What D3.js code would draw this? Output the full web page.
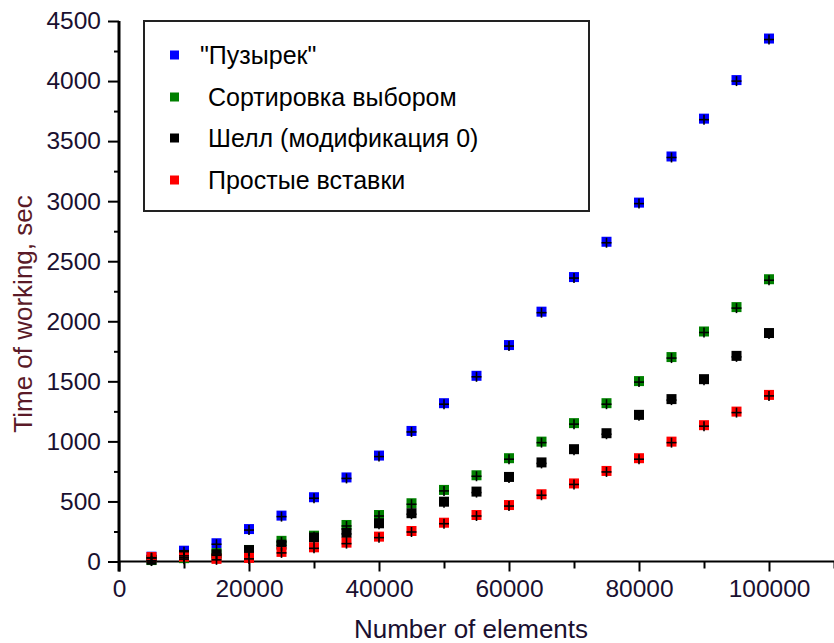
<!DOCTYPE html>
<html>
<head>
<meta charset="utf-8">
<script src="https://cdn.jsdelivr.net/npm/d3@7/dist/d3.min.js"></script>
<style>
  html, body { margin: 0; padding: 0; background: #fff; }
  svg { display: block; font-family: "Liberation Sans", Arial, sans-serif; }
</style>
</head>
<body>
<svg id="chart" width="834" height="643"></svg>
<script>
// Array sizes (number of elements)
const sizes = [5000, 10000, 15000, 20000, 25000, 30000, 35000, 40000, 45000, 50000,
               55000, 60000, 65000, 70000, 75000, 80000, 85000, 90000, 95000, 100000];

// Running time, seconds
const bubble    = [40, 90, 152, 270, 382, 535, 700, 882, 1087, 1318,
                   1546, 1802, 2080, 2368, 2662, 2988, 3372, 3687, 4008, 4354];
const selection = [12, 28, 70, 96, 172, 215, 304, 387, 485, 596,
                   718, 860, 998, 1152, 1318, 1502, 1702, 1915, 2118, 2350];
const shell     = [15, 55, 60, 95, 140, 200, 238, 318, 402, 498,
                   582, 704, 825, 935, 1068, 1221, 1352, 1518, 1712, 1902];
const insertion = [37, 40, 22, 30, 80, 118, 157, 207, 254, 323,
                   387, 470, 560, 650, 754, 860, 998, 1135, 1248, 1387];

const seriesNames  = ["\"Пузырек\"", "Сортировка выбором", "Шелл (модификация 0)", "Простые вставки"];
const seriesValues = [bubble, selection, shell, insertion];
const seriesColors = ["#0000ff", "#008000", "#000000", "#ff0000"];

const xMajorTicks = [0, 20000, 40000, 60000, 80000, 100000];
const xMinorTicks = [10000, 30000, 50000, 70000, 90000, 110000];
const yMajorTicks = [0, 500, 1000, 1500, 2000, 2500, 3000, 3500, 4000, 4500];
const yMinorTicks = [250, 750, 1250, 1750, 2250, 2750, 3250, 3750, 4250];

const xTitle = "Number of elements";
const yTitle = "Time of working, sec";

const svg = d3.select("#chart");

const x = d3.scaleLinear().domain([0, 110000]).range([119, 834]);
const y = d3.scaleLinear().domain([0, 4500]).range([561.5, 21]);

const FONT = 24.5;
const LEGEND_FONT = 25;
const TITLE_FONT = 26;

// ---- Y axis ----
const yMinor = svg.append("g").attr("transform", `translate(${x(0)},0)`)
  .call(d3.axisLeft(y).tickValues(yMinorTicks).tickSize(5).tickFormat(""));
const yMajor = svg.append("g").attr("transform", `translate(${x(0)},0)`)
  .call(d3.axisLeft(y).tickValues(yMajorTicks).tickSize(11).tickPadding(7).tickFormat(d3.format("d")));
[yMinor, yMajor].forEach(g => {
  g.select(".domain").remove();
  g.selectAll(".tick line").attr("stroke", "#000").attr("stroke-width", 2);
});
yMajor.selectAll(".tick text")
  .attr("font-size", FONT).attr("fill", "#1a1030")
  .attr("font-family", "Liberation Sans, Arial, sans-serif");

// ---- X axis ----
const xMinor = svg.append("g").attr("transform", `translate(0,${y(0)})`)
  .call(d3.axisBottom(x).tickValues(xMinorTicks).tickSize(7).tickFormat(""));
const xMajor = svg.append("g").attr("transform", `translate(0,${y(0)})`)
  .call(d3.axisBottom(x).tickValues(xMajorTicks).tickSize(10).tickPadding(8).tickFormat(d3.format("d")));
[xMinor, xMajor].forEach(g => {
  g.select(".domain").remove();
  g.selectAll(".tick line").attr("stroke", "#000").attr("stroke-width", 2);
});
xMajor.selectAll(".tick text")
  .attr("font-size", FONT).attr("fill", "#1a1030")
  .attr("font-family", "Liberation Sans, Arial, sans-serif");

// axis lines
svg.append("line")
  .attr("x1", x(0)).attr("x2", x(110000))
  .attr("y1", y(0)).attr("y2", y(0))
  .attr("stroke", "#000").attr("stroke-width", 2);
svg.append("line")
  .attr("x1", x(0)).attr("x2", x(0))
  .attr("y1", y(4500)).attr("y2", y(0) + 10)
  .attr("stroke", "#000").attr("stroke-width", 3);

// ---- Titles ----
svg.append("text")
  .attr("x", 471).attr("y", 638)
  .attr("text-anchor", "middle")
  .attr("font-size", TITLE_FONT).attr("fill", "#1a1030")
  .text(xTitle);
svg.append("text")
  .attr("transform", `translate(32,${314}) rotate(-90)`)
  .attr("text-anchor", "middle")
  .attr("font-size", TITLE_FONT).attr("fill", "#5a1a28")
  .text(yTitle);

// ---- Data points ----
const SQ = 10;
const pts = [];
seriesValues.forEach((vals, i) => {
  vals.forEach((v, j) => pts.push({ s: i, n: sizes[j], v }));
});

svg.append("g").selectAll("rect")
  .data(pts)
  .join("rect")
  .attr("x", d => x(d.n) - SQ / 2)
  .attr("y", d => y(d.v) - SQ / 2)
  .attr("width", SQ).attr("height", SQ)
  .attr("fill", d => seriesColors[d.s]);

// small black cross marks on each point
const crosses = svg.append("g").attr("stroke", "#000").attr("stroke-width", 1.6);
crosses.selectAll("line.h")
  .data(pts).join("line").attr("class", "h")
  .attr("x1", d => x(d.n) - 5).attr("x2", d => x(d.n) + 5)
  .attr("y1", d => y(d.v) + 1).attr("y2", d => y(d.v) + 1);
crosses.selectAll("line.v")
  .data(pts).join("line").attr("class", "v")
  .attr("x1", d => x(d.n)).attr("x2", d => x(d.n))
  .attr("y1", d => y(d.v) - 4).attr("y2", d => y(d.v) + 6);

// ---- Legend ----
const legend = svg.append("g");
legend.append("rect")
  .attr("x", 144).attr("y", 21)
  .attr("width", 445).attr("height", 190)
  .attr("fill", "#fff").attr("stroke", "#222").attr("stroke-width", 2);

const legendRows = [55, 97, 138, 180];
seriesNames.forEach((name, i) => {
  legend.append("rect")
    .attr("x", 170).attr("y", legendRows[i] - 4.5)
    .attr("width", 9).attr("height", 9)
    .attr("fill", seriesColors[i]);
  legend.append("text")
    .attr("x", i === 0 ? 200 : 208)
    .attr("y", legendRows[i])
    .attr("dy", "0.35em")
    .attr("font-size", LEGEND_FONT).attr("fill", "#000")
    .text(name);
});
</script>
</body>
</html>
